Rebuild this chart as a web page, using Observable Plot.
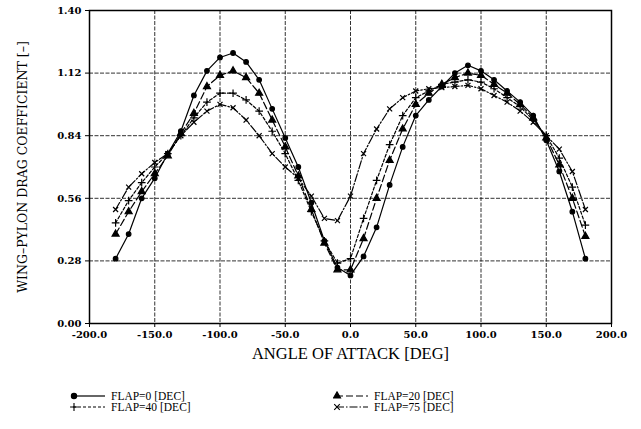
<!DOCTYPE html>
<html>
<head>
<meta charset="utf-8">
<script src="https://cdn.jsdelivr.net/npm/d3@7"></script>
<script src="https://cdn.jsdelivr.net/npm/@observablehq/plot@0.6"></script>
<style>
  html, body { margin: 0; padding: 0; background: #fff; }
  #wrap { position: relative; width: 641px; height: 429px; font-family: "Liberation Serif", "DejaVu Serif", serif; }
  #legend { position: absolute; left: 0; top: 388px; width: 641px; height: 30px; }
  .item { position: absolute; display: flex; align-items: center; height: 11px; font-size: 11.5px; color: #000; white-space: nowrap; }
  .item svg { margin-right: 5px; }
</style>
</head>
<body>
<div id="wrap">
  <div id="chart"></div>
  <div id="legend"></div>
</div>
<script>
// Angle of attack [deg]
const angle = [-180, -170, -160, -150, -140, -130, -120, -110, -100, -90, -80, -70, -60, -50, -40, -30, -20, -10,
               0, 10, 20, 30, 40, 50, 60, 70, 80, 90, 100, 110, 120, 130, 140, 150, 160, 170, 180];

// Wing-pylon drag coefficient per flap setting
const cdFlap0  = [0.29, 0.40, 0.56, 0.65, 0.76, 0.86, 1.02, 1.13, 1.19, 1.21, 1.17, 1.09, 0.96, 0.83, 0.70, 0.54, 0.37, 0.25,
                  0.215, 0.30, 0.43, 0.62, 0.79, 0.93, 1.00, 1.06, 1.12, 1.155, 1.13, 1.09, 1.04, 0.99, 0.93, 0.82, 0.68, 0.50, 0.29];
const cdFlap20 = [0.40, 0.50, 0.59, 0.67, 0.75, 0.85, 0.94, 1.06, 1.11, 1.13, 1.10, 1.03, 0.91, 0.79, 0.66, 0.51, 0.36, 0.24,
                  0.24, 0.38, 0.56, 0.73, 0.87, 0.98, 1.03, 1.07, 1.10, 1.12, 1.11, 1.07, 1.03, 0.98, 0.92, 0.83, 0.71, 0.56, 0.39];
const cdFlap40 = [0.45, 0.55, 0.63, 0.70, 0.76, 0.84, 0.92, 0.99, 1.03, 1.03, 1.00, 0.95, 0.86, 0.76, 0.64, 0.50, 0.37, 0.27,
                  0.29, 0.47, 0.64, 0.80, 0.93, 1.01, 1.04, 1.07, 1.08, 1.09, 1.08, 1.05, 1.01, 0.97, 0.91, 0.84, 0.74, 0.61, 0.44];
const cdFlap75 = [0.51, 0.61, 0.67, 0.72, 0.76, 0.84, 0.90, 0.95, 0.98, 0.965, 0.91, 0.84, 0.76, 0.70, 0.65, 0.57, 0.47, 0.46,
                  0.57, 0.76, 0.87, 0.96, 1.01, 1.04, 1.05, 1.055, 1.06, 1.065, 1.05, 1.02, 0.99, 0.95, 0.90, 0.84, 0.78, 0.68, 0.51];

const seriesNames = ["FLAP=0 [DEC]", "FLAP=20 [DEC]", "FLAP=40 [DEC]", "FLAP=75 [DEC]"];

const xTicks = [-200, -150, -100, -50, 0, 50, 100, 150, 200];
const yTicks = [0.00, 0.28, 0.56, 0.84, 1.12, 1.40];

const xLabel = "ANGLE OF ATTACK [DEG]";
const yLabel = "WING\u2013PYLON DRAG COEFFICIENT [\u2013]";

// line style and marker for each flap setting
const styles = [
  {dash: null,        symbol: "circle",   d3sym: d3.symbolCircle,   r: 2.3, filled: true},
  {dash: "7,3",       symbol: "triangle", d3sym: d3.symbolTriangle, r: 2.6, filled: true},
  {dash: "3,2",       symbol: "plus",     d3sym: d3.symbolPlus,     r: 2.6, filled: false},
  {dash: "8,2,1.5,2", symbol: "times",    d3sym: d3.symbolTimes,    r: 2.4, filled: false}
];

const values = [cdFlap0, cdFlap20, cdFlap40, cdFlap75];
const tables = values.map((vals, i) => angle.map((a, j) => ({angle: a, cd: vals[j], flap: seriesNames[i]})));

const tickFont = {fontFamily: "'DejaVu Serif', serif", fontWeight: "bold", fontSize: 10};

const marks = [
  Plot.gridX(xTicks, {stroke: "#000", strokeOpacity: 0.9, strokeWidth: 0.9, strokeDasharray: "4,1.5"}),
  Plot.gridY(yTicks, {stroke: "#000", strokeOpacity: 0.9, strokeWidth: 0.9, strokeDasharray: "4,1.5"}),
  Plot.frame({stroke: "#000", strokeWidth: 1.5}),
  Plot.axisX(xTicks, {tickSize: 4, tickPadding: 3, tickFormat: d => d.toFixed(1), label: null, ...tickFont}),
  Plot.axisY(yTicks, {tickSize: 4, tickPadding: 4, tickFormat: d => d.toFixed(2), label: null, ...tickFont}),
  Plot.text([xLabel], {frameAnchor: "bottom", dy: 35, fontSize: 16.5, text: d => d}),
  Plot.text([yLabel], {frameAnchor: "left", textAnchor: "middle", dx: -67, rotate: -90,
    fontFamily: "'DejaVu Serif', serif", fontSize: 12.5, text: d => d})
];

tables.forEach((rows, i) => {
  const s = styles[i];
  marks.push(Plot.line(rows, {x: "angle", y: "cd", stroke: "#000", strokeWidth: 1.2,
    strokeDasharray: s.dash || undefined}));
  marks.push(Plot.dot(rows, {x: "angle", y: "cd", symbol: () => s.symbol, r: s.r,
    stroke: "#000", strokeWidth: 1.2, fill: s.filled ? "#000" : "none"}));
});

const chart = Plot.plot({
  width: 641,
  height: 372,
  marginLeft: 89,
  marginRight: 30,
  marginTop: 10,
  marginBottom: 49,
  style: {fontFamily: "'Liberation Serif', 'DejaVu Serif', serif", color: "#000", background: "#fff"},
  x: {domain: [-200, 200]},
  y: {domain: [0, 1.40]},
  symbol: {type: "identity"},
  marks
});
document.getElementById("chart").appendChild(chart);

// legend: two columns, two rows
const legend = d3.select("#legend");
const positions = [[70, 2], [333, 2], [70, 13], [333, 13]];
seriesNames.forEach((name, i) => {
  const s = styles[i];
  const item = legend.append("div").attr("class", "item")
    .style("left", positions[i][0] + "px").style("top", positions[i][1] + "px");
  const svg = item.append("svg").attr("width", 36).attr("height", 10);
  svg.append("line").attr("x1", 3).attr("x2", 35).attr("y1", 5).attr("y2", 5)
    .attr("stroke", "#000").attr("stroke-width", 1.2)
    .attr("stroke-dasharray", s.dash || null);
  svg.append("path")
    .attr("transform", "translate(4,5)")
    .attr("d", d3.symbol(s.d3sym, 22)())
    .attr("fill", s.filled ? "#000" : "none")
    .attr("stroke", "#000").attr("stroke-width", 1.1);
  item.append("span").text(name);
});
</script>
</body>
</html>
